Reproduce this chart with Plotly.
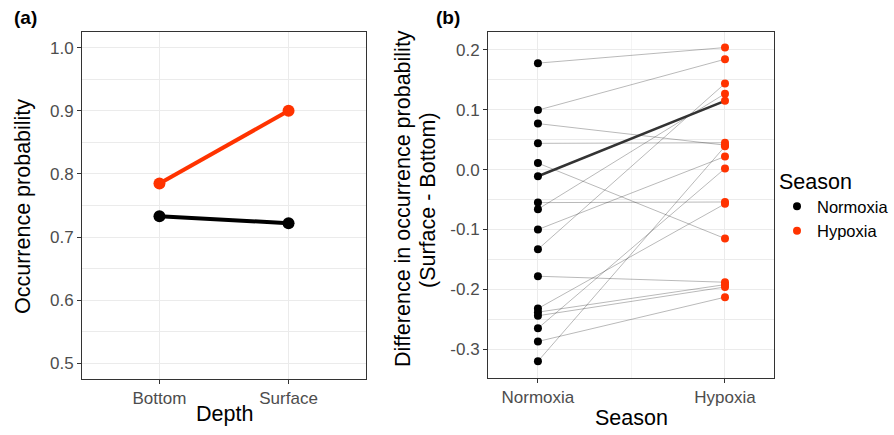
import plotly.graph_objects as go

# ---------------- data ----------------
depth = ["Bottom", "Surface"]
normoxia_prob = [0.733, 0.722]
hypoxia_prob = [0.785, 0.900]

seasons = ["Normoxia", "Hypoxia"]
# paired differences (Surface - Bottom) per group, Normoxia -> Hypoxia
normoxia_diff = [0.178, 0.0995, 0.077, 0.044, 0.011, -0.055, -0.066, -0.100,
                 -0.133, -0.178, -0.232, -0.238, -0.244, -0.265, -0.287, -0.320]
hypoxia_diff = [0.204, 0.1845, 0.041, 0.045, -0.115, -0.054, 0.127, 0.022,
                0.144, -0.188, -0.057, -0.192, -0.196, 0.002, -0.213, 0.039]

ya_ticks = [0.5, 0.6, 0.7, 0.8, 0.9, 1.0]
ya_labels = ["0.5", "0.6", "0.7", "0.8", "0.9", "1.0"]
yb_ticks = [-0.3, -0.2, -0.1, 0.0, 0.1, 0.2]
yb_labels = ["-0.3", "-0.2", "-0.1", "0.0", "0.1", "0.2"]

# ---------------- styles ----------------
RED = "#FF3300"
BLACK = "#000000"
FONT = "Liberation Sans, Arial, sans-serif"
W, H = 894, 435
GRID = "#EBEBEB"
FRAME = "#333333"
TICKC = "#4D4D4D"


def px(x):
    return x / W


def py(y):
    return 1 - y / H


fig = go.Figure()

# panel (a)
fig.add_trace(go.Scatter(x=depth, y=normoxia_prob, mode="lines+markers",
                         line=dict(color=BLACK, width=4),
                         marker=dict(color=BLACK, size=12),
                         xaxis="x", yaxis="y", showlegend=False))
fig.add_trace(go.Scatter(x=depth, y=hypoxia_prob, mode="lines+markers",
                         line=dict(color=RED, width=4),
                         marker=dict(color=RED, size=12),
                         xaxis="x", yaxis="y", showlegend=False))

# panel (b) paired lines
lx, ly = [], []
for a, b in zip(normoxia_diff, hypoxia_diff):
    lx += [seasons[0], seasons[1], None]
    ly += [a, b, None]
fig.add_trace(go.Scatter(x=lx, y=ly, mode="lines",
                         line=dict(color="rgba(0,0,0,0.35)", width=0.8),
                         xaxis="x2", yaxis="y2", showlegend=False,
                         connectgaps=False))

# mean difference line derived from panel (a)
mean_n = normoxia_prob[1] - normoxia_prob[0]
mean_h = hypoxia_prob[1] - hypoxia_prob[0]
fig.add_trace(go.Scatter(x=seasons, y=[mean_n, mean_h], mode="lines",
                         line=dict(color="#333333", width=2.5),
                         xaxis="x2", yaxis="y2", showlegend=False))

fig.add_trace(go.Scatter(x=[seasons[0]] * (len(normoxia_diff) + 1),
                         y=normoxia_diff + [mean_n], mode="markers",
                         marker=dict(color=BLACK, size=8),
                         name="Normoxia", xaxis="x2", yaxis="y2"))
fig.add_trace(go.Scatter(x=[seasons[1]] * (len(hypoxia_diff) + 1),
                         y=hypoxia_diff + [mean_h], mode="markers",
                         marker=dict(color=RED, size=8),
                         name="Hypoxia", xaxis="x2", yaxis="y2"))

axis_common = dict(showline=True, mirror=True, linecolor=FRAME, linewidth=1,
                   ticks="outside", ticklen=4, tickcolor=FRAME, tickwidth=1,
                   tickfont=dict(family=FONT, size=17, color=TICKC),
                   showgrid=True, gridcolor=GRID, gridwidth=1, zeroline=False)

fig.update_layout(
    width=W, height=H,
    margin=dict(l=0, r=0, t=0, b=0),
    paper_bgcolor="white", plot_bgcolor="white",
    font=dict(family=FONT, color="black"),
    xaxis=dict(domain=[px(82), px(366)], type="category", range=[-0.6, 1.6],
               anchor="y", **axis_common),
    yaxis=dict(domain=[py(379), py(32)], range=[0.475, 1.025], anchor="x",
               tickmode="array", tickvals=ya_ticks, ticktext=ya_labels,
               minor=dict(dtick=0.05, tick0=0.5, showgrid=True, gridcolor=GRID,
                          gridwidth=0.5, ticks=""),
               **axis_common),
    xaxis2=dict(domain=[px(488), px(774)], type="category",
                range=[-0.267, 1.262], anchor="y2", **axis_common),
    yaxis2=dict(domain=[py(378), py(32)], range=[-0.348, 0.230], anchor="x2",
                tickmode="array", tickvals=yb_ticks, ticktext=yb_labels,
                minor=dict(dtick=0.05, tick0=0, showgrid=True, gridcolor=GRID,
                           gridwidth=0.5, ticks=""),
                **axis_common),
    legend=dict(x=px(777), y=py(161), xanchor="left", yanchor="top",
                title=dict(text="Season", font=dict(family=FONT, size=21.5)),
                font=dict(family=FONT, size=16.5), itemsizing="trace",
                bgcolor="rgba(0,0,0,0)"),
    shapes=[dict(type="line", xref="x2", yref="y2 domain", x0=0.5, x1=0.5,
                 y0=0, y1=1, line=dict(color=GRID, width=0.6), layer="below")],
)

ann = []
ann.append(dict(text="<b>(a)</b>", x=px(12), y=py(17), xref="paper", yref="paper",
                xanchor="left", yanchor="middle", showarrow=False,
                font=dict(family=FONT, size=19)))
ann.append(dict(text="<b>(b)</b>", x=px(434), y=py(17), xref="paper", yref="paper",
                xanchor="left", yanchor="middle", showarrow=False,
                font=dict(family=FONT, size=19)))
ann.append(dict(text="Occurrence probability", x=px(23), y=py(207),
                xref="paper", yref="paper", textangle=-90, showarrow=False,
                xanchor="center", yanchor="middle",
                font=dict(family=FONT, size=21.5)))
ann.append(dict(text="Difference in occurrence probability", x=px(403), y=py(199),
                xref="paper", yref="paper", textangle=-90, showarrow=False,
                xanchor="center", yanchor="middle",
                font=dict(family=FONT, size=21.5)))
ann.append(dict(text="(Surface - Bottom)", x=px(428), y=py(200),
                xref="paper", yref="paper", textangle=-90, showarrow=False,
                xanchor="center", yanchor="middle",
                font=dict(family=FONT, size=21.5)))
ann.append(dict(text="Depth", x=px(224), y=py(414), xref="paper", yref="paper",
                showarrow=False, xanchor="center", yanchor="middle",
                font=dict(family=FONT, size=21.5)))
ann.append(dict(text="Season", x=px(631), y=py(418), xref="paper", yref="paper",
                showarrow=False, xanchor="center", yanchor="middle",
                font=dict(family=FONT, size=21.5)))
fig.update_layout(annotations=ann)

fig.write_html("out.html",
               config={"displayModeBar": False},
               post_script="document.body.style.margin='0px';"
                           "document.body.style.overflow='hidden';")
